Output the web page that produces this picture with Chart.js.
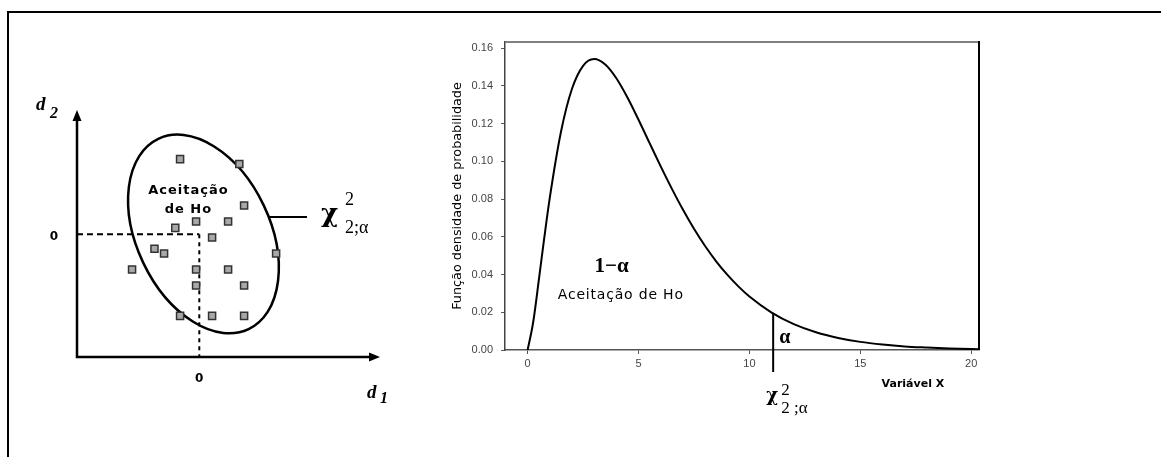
<!DOCTYPE html>
<html>
<head>
<meta charset="utf-8">
<script src="https://cdn.jsdelivr.net/npm/chart.js@4.4.1/dist/chart.umd.min.js"></script>
<style>
  html, body { margin: 0; padding: 0; background: #fff; }
  body { width: 1161px; height: 457px; position: relative; overflow: hidden; }
  #frame { position: absolute; left: 7px; top: 11px; width: 1200px; height: 500px;
           border-top: 2px solid #000; border-left: 2px solid #000; }
  .box { position: absolute; top: 0; height: 457px; }
</style>
</head>
<body>
<div id="frame"></div>
<div class="box" style="left:0;width:420px"><canvas id="left"></canvas></div>
<div class="box" style="left:440px;width:560px"><canvas id="right"></canvas></div>
<script>
// left panel: observations (d1, d2)
const d1Values = [-1.2, 2.5, 2.8, -0.2, 1.8, -1.5, 0.8, -2.8, -2.2, 4.8, -4.2, -0.2, 1.8, -0.2, 2.8, -1.2, 0.8, 2.8];
const d2Values = [4.7, 4.4, 1.8, 0.8, 0.8, 0.4, -0.2, -0.9, -1.2, -1.2, -2.2, -2.2, -2.2, -3.2, -3.2, -5.1, -5.1, -5.1];

// right panel: density curve
const xValues = [0, 0.25, 0.5, 0.75, 1, 1.5, 2, 2.5, 3, 3.5, 4, 4.5, 5, 5.5, 6, 6.5, 7, 7.5, 8, 8.5, 9, 9.5, 10,
                 11, 12, 13, 14, 15, 16, 17, 18, 19, 20, 20.5];
const densityValues = [0, 0.0147, 0.0366, 0.0594, 0.0807, 0.1154, 0.1384, 0.1506, 0.1542, 0.1513, 0.1440, 0.1338,
                       0.1220, 0.1096, 0.0973, 0.0855, 0.0744, 0.0642, 0.0551, 0.0470, 0.0399, 0.0337, 0.0283,
                       0.0198, 0.0137, 0.0094, 0.0064, 0.0043, 0.0029, 0.0019, 0.0013, 0.0008, 0.0005, 0.0004];
const xTicks = [0, 5, 10, 15, 20];
const yTicks = [0, 0.02, 0.04, 0.06, 0.08, 0.10, 0.12, 0.14, 0.16];
const criticalX = 11.07;
const criticalDensity = 0.0197;

// acceptance ellipse (data units of the left panel)
const ellipse = { cx: 0.26, cy: 0.02, rx: 6.58, ry: 4.17, angle: 64.6 };
const leader = { y: 1.08, x0: 4.36, x1: 6.73 };

const SERIF = '"Liberation Serif", serif';

// chi-square symbol with super/subscript; o = offsets from (x, y)
function drawChi(ctx, x, y, o, sub) {
  ctx.textAlign = 'left';
  ctx.textBaseline = 'alphabetic';
  ctx.font = 'bold ' + o.chi + 'px "DejaVu Serif", serif';
  ctx.fillText('\u03c7', x + o.cx, y + o.cy);
  ctx.font = o.dig + 'px ' + SERIF;
  ctx.fillText('2', x + o.sx, y + o.supY);
  ctx.fillText(sub, x + o.sx, y + o.subY);
}

const leftDecor = {
  id: 'leftDecor',
  beforeDatasetsDraw(chart) {
    const { ctx, chartArea: a, scales: { x, y } } = chart;
    const x0 = x.getPixelForValue(0), y0 = y.getPixelForValue(0);
    const unit = x.getPixelForValue(1) - x0;
    ctx.save();
    ctx.strokeStyle = '#000';
    ctx.fillStyle = '#000';
    // dashed guides
    ctx.lineWidth = 2;
    ctx.setLineDash([6, 4]);
    ctx.beginPath(); ctx.moveTo(a.left, y0); ctx.lineTo(x0, y0); ctx.stroke();
    ctx.setLineDash([4, 4]);
    ctx.beginPath(); ctx.moveTo(x0, y0); ctx.lineTo(x0, a.bottom); ctx.stroke();
    ctx.setLineDash([]);
    // ellipse
    ctx.lineWidth = 2.5;
    ctx.beginPath();
    ctx.ellipse(x.getPixelForValue(ellipse.cx), y.getPixelForValue(ellipse.cy),
                ellipse.rx * unit, ellipse.ry * unit, ellipse.angle * Math.PI / 180, 0, 2 * Math.PI);
    ctx.stroke();
    // leader to chi label
    ctx.lineWidth = 2;
    const ly = y.getPixelForValue(leader.y);
    ctx.beginPath(); ctx.moveTo(x.getPixelForValue(leader.x0), ly); ctx.lineTo(x.getPixelForValue(leader.x1), ly); ctx.stroke();
    // axes with arrows
    ctx.lineWidth = 2.5;
    ctx.beginPath();
    ctx.moveTo(a.left, a.top + 8); ctx.lineTo(a.left, a.bottom); ctx.lineTo(a.right - 8, a.bottom);
    ctx.stroke();
    ctx.beginPath();
    ctx.moveTo(a.left, a.top); ctx.lineTo(a.left - 4.5, a.top + 11); ctx.lineTo(a.left + 4.5, a.top + 11); ctx.closePath();
    ctx.fill();
    ctx.beginPath();
    ctx.moveTo(a.right, a.bottom); ctx.lineTo(a.right - 11, a.bottom - 4.5); ctx.lineTo(a.right - 11, a.bottom + 4.5); ctx.closePath();
    ctx.fill();
    ctx.restore();
  },
  afterDatasetsDraw(chart) {
    const { ctx, chartArea: a, scales: { x, y } } = chart;
    const x0 = x.getPixelForValue(0), y0 = y.getPixelForValue(0);
    ctx.save();
    ctx.fillStyle = '#000';
    ctx.textAlign = 'center';
    ctx.textBaseline = 'middle';
    ctx.font = 'bold 12px "DejaVu Sans", sans-serif';
    ctx.fillText('0', a.left - 23, y0 + 3);
    ctx.fillText('0', x0, a.bottom + 22);
    ctx.font = 'bold 13px "DejaVu Sans", sans-serif';
    ctx.letterSpacing = '1px';
    ctx.fillText('Aceita\u00e7\u00e3o', x.getPixelForValue(-0.68), y.getPixelForValue(2.7));
    ctx.fillText('de Ho', x.getPixelForValue(-0.68), y.getPixelForValue(1.52));
    ctx.letterSpacing = '0px';
    // axis names
    ctx.textAlign = 'left';
    ctx.textBaseline = 'alphabetic';
    ctx.font = 'bold italic 19px ' + SERIF;
    ctx.fillText('d', a.left - 41, a.top);
    ctx.fillText('d', a.right - 13, a.bottom + 41);
    ctx.font = 'bold italic 16px ' + SERIF;
    ctx.fillText('2', a.left - 27, a.top + 8);
    ctx.fillText('1', a.right, a.bottom + 46);
    drawChi(ctx, x.getPixelForValue(leader.x1), y.getPixelForValue(leader.y),
            { chi: 26, cx: 14, cy: 5, dig: 18, sx: 38, supY: -12, subY: 16 }, '2;\u03b1');
    ctx.restore();
  }
};

new Chart(document.getElementById('left'), {
  type: 'scatter',
  data: {
    datasets: [{
      data: d1Values.map((v, i) => ({ x: v, y: d2Values[i] })),
      pointStyle: 'rect',
      pointRadius: 5,
      pointBackgroundColor: '#a8a8a8',
      pointBorderColor: '#333',
      pointBorderWidth: 1.5
    }]
  },
  options: {
    responsive: true,
    maintainAspectRatio: false,
    animation: false,
    events: [],
    layout: { padding: { left: 77, right: 40, top: 110, bottom: 100 } },
    plugins: { legend: { display: false }, tooltip: { enabled: false } },
    scales: {
      x: { type: 'linear', display: false, min: -7.64, max: 11.29 },
      y: { type: 'linear', display: false, min: -7.67, max: 7.77 }
    }
  },
  plugins: [leftDecor]
});

const rightDecor = {
  id: 'rightDecor',
  afterDraw(chart) {
    const { ctx, chartArea: a, scales: { x, y } } = chart;
    ctx.save();
    // frame top (grey) and right (black)
    ctx.lineWidth = 2;
    ctx.strokeStyle = '#808080';
    ctx.beginPath(); ctx.moveTo(a.left, a.top); ctx.lineTo(a.right, a.top); ctx.stroke();
    ctx.strokeStyle = '#000';
    ctx.beginPath(); ctx.moveTo(a.right, a.top - 1); ctx.lineTo(a.right, a.bottom); ctx.stroke();
    // critical value line
    const cx = x.getPixelForValue(criticalX);
    ctx.beginPath(); ctx.moveTo(cx, y.getPixelForValue(criticalDensity)); ctx.lineTo(cx, a.bottom + 22); ctx.stroke();
    // annotations
    ctx.fillStyle = '#000';
    ctx.textAlign = 'center';
    ctx.textBaseline = 'middle';
    ctx.font = 'bold 21px ' + SERIF;
    ctx.fillText('1\u2212\u03b1', x.getPixelForValue(3.79), y.getPixelForValue(0.0441));
    ctx.font = 'bold 20px ' + SERIF;
    ctx.fillText('\u03b1', x.getPixelForValue(11.6), y.getPixelForValue(0.0064));
    ctx.font = '14px "DejaVu Sans", sans-serif';
    ctx.letterSpacing = '0.8px';
    ctx.fillText('Aceita\u00e7\u00e3o de Ho', x.getPixelForValue(4.2), y.getPixelForValue(0.0288));
    ctx.letterSpacing = '0px';
    ctx.font = 'bold 11px "DejaVu Sans", sans-serif';
    ctx.fillText('Vari\u00e1vel X', x.getPixelForValue(17.37), a.bottom + 34);
    drawChi(ctx, cx, a.bottom, { chi: 18, cx: -7, cy: 51, dig: 17, sx: 8, supY: 45, subY: 63 }, '2 ;\u03b1');
    ctx.restore();
  }
};

new Chart(document.getElementById('right'), {
  type: 'line',
  data: {
    datasets: [{
      data: xValues.map((v, i) => ({ x: v, y: densityValues[i] })),
      borderColor: '#000',
      borderWidth: 2,
      pointRadius: 0,
      fill: false,
      cubicInterpolationMode: 'monotone'
    }]
  },
  options: {
    responsive: true,
    maintainAspectRatio: false,
    animation: false,
    events: [],
    layout: { padding: { left: 0, right: 21, top: 42, bottom: 0 } },
    plugins: { legend: { display: false }, tooltip: { enabled: false } },
    scales: {
      x: {
        type: 'linear', min: -1.02, max: 20.35,
        afterBuildTicks: s => { s.ticks = xTicks.map(v => ({ value: v })); },
        afterFit: s => { s.height = 107; s.paddingLeft = 0; s.paddingRight = 0; },
        grid: { drawOnChartArea: false, tickLength: 4, color: '#555', lineWidth: 1 },
        border: { color: '#555', width: 1.5 },
        ticks: { color: '#444', padding: 3, maxRotation: 0, font: { family: '"Liberation Sans", sans-serif', size: 11 } }
      },
      y: {
        type: 'linear', min: 0, max: 0.1632,
        afterBuildTicks: s => { s.ticks = yTicks.map(v => ({ value: v })); },
        afterFit: s => { s.width = 65; s.paddingTop = 0; s.paddingBottom = 0; },
        grid: { drawOnChartArea: false, tickLength: 4, color: '#555', lineWidth: 1 },
        border: { color: '#444', width: 1.5 },
        ticks: { color: '#444', padding: 8, callback: v => v.toFixed(2), font: { family: '"Liberation Sans", sans-serif', size: 11 } },
        title: { display: true, text: 'Fun\u00e7\u00e3o densidade de probabilidade', color: '#000',
                 padding: { top: 10, bottom: 0 }, font: { family: '"DejaVu Sans", sans-serif', size: 12.8 } }
      }
    }
  },
  plugins: [rightDecor]
});
</script>
</body>
</html>
